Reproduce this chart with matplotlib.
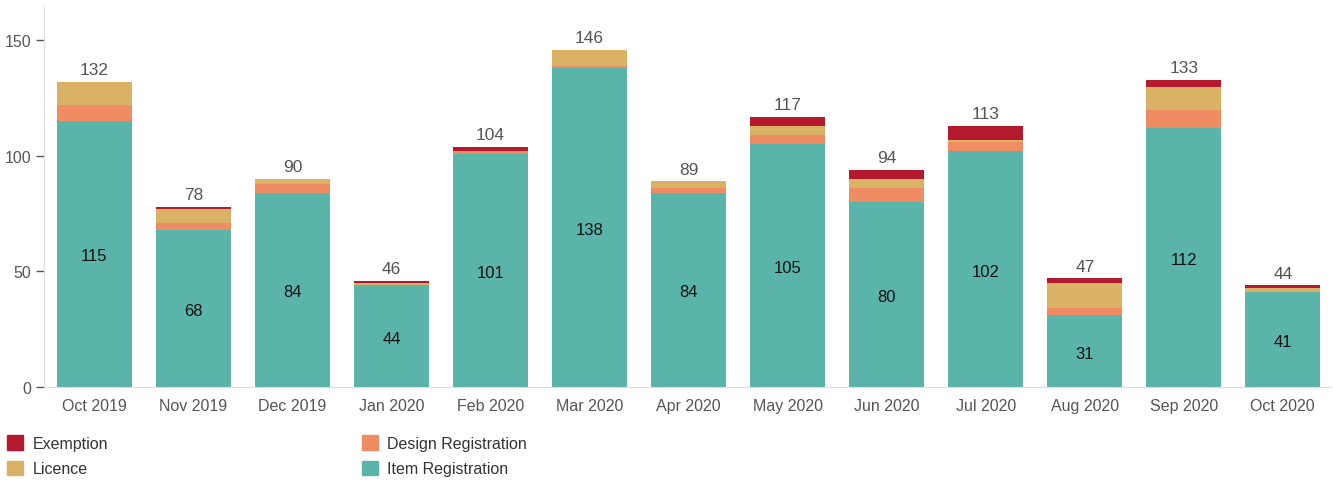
import matplotlib.pyplot as plt
from matplotlib.patches import Patch
import numpy as np

plt.rcParams['font.family'] = ['Liberation Sans', 'DejaVu Sans']

months = ['Oct 2019', 'Nov 2019', 'Dec 2019', 'Jan 2020', 'Feb 2020', 'Mar 2020', 'Apr 2020',
          'May 2020', 'Jun 2020', 'Jul 2020', 'Aug 2020', 'Sep 2020', 'Oct 2020']
item_registration = [115, 68, 84, 44, 101, 138, 84, 105, 80, 102, 31, 112, 41]
design_registration = [7, 3, 4, 0, 1, 1, 2, 4, 6, 4, 3, 8, 0]
licence = [10, 6, 2, 1, 0, 7, 3, 4, 4, 1, 11, 10, 2]
exemption = [0, 1, 0, 1, 2, 0, 0, 4, 4, 6, 2, 3, 1]

c_item = '#5AB4AA'
c_design = '#F08C64'
c_licence = '#D9B266'
c_exempt = '#B5192D'

fig = plt.figure(figsize=(13.33, 4.81), dpi=100)
ax = fig.add_axes([0.033, 0.1934, 0.965, 0.79])

x = np.arange(len(months))
w = 0.76
item = np.array(item_registration)
des = np.array(design_registration)
lic = np.array(licence)
exm = np.array(exemption)

ax.bar(x, item, w, color=c_item)
ax.bar(x, des, w, bottom=item, color=c_design)
ax.bar(x, lic, w, bottom=item + des, color=c_licence)
ax.bar(x, exm, w, bottom=item + des + lic, color=c_exempt)

totals = item + des + lic + exm
for i in range(len(months)):
    ax.text(x[i], item[i] / 2 - 0.8, str(item[i]), ha='center', va='center', fontsize=12, color='#111111')
    ax.text(x[i], totals[i] + 2, str(totals[i]), ha='center', va='bottom', fontsize=12.5, color='#555555')

ax.set_xlim(-0.51, 12.48)
ax.set_ylim(0, 164.5)
ax.set_yticks([0, 50, 100, 150])
ax.set_xticks(x)
ax.set_xticklabels(months)
ax.tick_params(axis='x', length=0, labelsize=11.5, labelcolor='#555555', pad=8)
ax.tick_params(axis='y', length=6, width=1, color='#555555', labelsize=11.5, labelcolor='#555555', pad=3)
for s in ['top', 'right']:
    ax.spines[s].set_visible(False)
ax.spines['left'].set_color('#dddddd')
ax.spines['bottom'].set_color('#dddddd')

handles = [Patch(color=c_exempt, label='Exemption'),
           Patch(color=c_licence, label='Licence'),
           Patch(color=c_design, label='Design Registration'),
           Patch(color=c_item, label='Item Registration')]
leg = fig.legend(handles=handles, loc='upper left', bbox_to_anchor=(-0.002, 0.113), ncol=2,
                 frameon=False, fontsize=11.5, handlelength=1.0, handleheight=1.0,
                 columnspacing=15.9, handletextpad=0.6, labelspacing=0.62, borderaxespad=0.2)
for t in leg.get_texts():
    t.set_color('#333333')

fig.savefig('out.png', dpi=100)
